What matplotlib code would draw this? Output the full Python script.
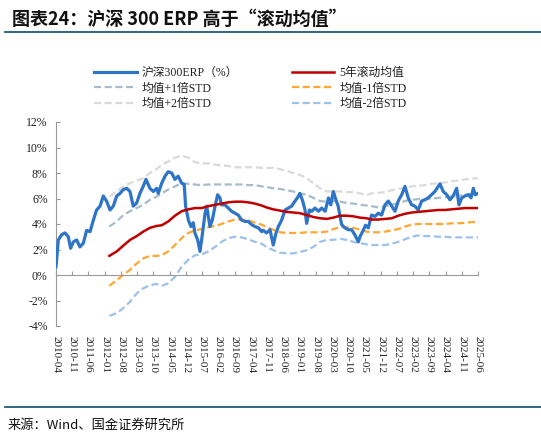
import matplotlib
matplotlib.use("Agg")
import matplotlib.pyplot as plt
from matplotlib.lines import Line2D
import numpy as np

# ---------------- data (months since 2010-04) ----------------
erp_m = [0, 1, 2.4, 3.9, 5.3, 6.3, 7.5, 8.9, 10.3, 11.8, 13.2, 14.7, 16.1, 17.5, 19, 20.4,
         21.8, 23.3, 24.7, 26.2, 27.6, 29, 30.5, 31.9, 33.3, 34.8, 36.2, 37.6, 38.8, 40.5,
         42, 43.4, 44.1, 45.6, 47, 48.4, 49.9, 51.3, 52.7, 54.2, 55.3, 55.9, 57.1, 58.2,
         59.2, 59.9, 61.1, 62.1, 62.8, 64.3, 65, 65.7, 66.4, 67.4, 68.6, 69.7, 70.7, 71.4,
         72.9, 74.3, 75.7, 77.2, 78.6, 80.1, 81.5, 82.9, 84.4, 85.8, 87.3, 88.7, 89.4,
         90.8, 92.3, 93.7, 94.9, 95.9, 97.3, 98.8, 100.2, 101.6, 103.1, 104.1, 105.2,
         106.4, 107.4, 108.1, 109.3, 110.3, 111.7, 113.2, 114.6, 116.1, 117.5, 118.5,
         119.6, 120.7, 121.7, 122.5, 123.2, 124.6, 126.1, 127.5, 128.9, 130.4, 131.1,
         132.6, 133.5, 134.7, 136.1, 137.6, 139, 140.4, 141.9, 143.3, 144.8, 146.2, 147.6,
         149.1, 150.5, 151.9, 153.4, 154.8, 156.2, 157.7, 159.1, 160.5, 162, 163.4, 164.9,
         165.6, 167, 168.5, 169.9, 171.3, 172.8, 173.8, 175, 176.4, 177.9, 179, 180,
         180.8, 182]
erp_v = [0.65, 2.75, 3.15, 3.3, 3.0, 2.1, 2.6, 2.75, 2.2, 2.5, 3.5, 3.4, 4.3, 5.1, 5.4, 6.2,
         5.8, 5.1, 5.4, 6.2, 6.4, 6.7, 6.8, 6.55, 5.4, 5.65, 6.4, 6.95, 7.5, 6.8,
         6.55, 6.8, 6.4, 7.2, 7.75, 8.1, 8.0, 7.5, 7.75, 7.2, 7.1, 5.4, 4.3, 3.8,
         4.1, 3.3, 2.75, 1.85, 2.75, 4.85, 5.4, 4.6, 3.8, 4.3, 5.4, 6.3, 6.05, 5.5,
         5.5, 5.25, 5.0, 4.85, 4.7, 4.3, 4.2, 4.2, 3.95, 3.8, 3.7, 3.4, 3.5,
         3.3, 3.55, 2.35, 3.3, 3.8, 4.3, 5.1, 5.25, 5.4, 5.8, 6.05, 6.4,
         5.8, 5.1, 4.05, 5.1, 5.0, 5.25, 5.0, 5.25, 5.0, 6.05, 5.5,
         6.55, 5.9, 5.4, 4.6, 3.95, 3.7, 3.55, 3.55, 3.15, 2.6, 3.0,
         3.55, 3.9, 3.7, 4.7, 4.6, 4.85, 4.7, 5.5, 5.8, 5.4, 5.0, 5.8,
         6.3, 6.95, 6.05, 5.5, 5.4, 5.1, 5.8, 5.9, 6.05, 6.3, 6.55, 6.95,
         7.15, 6.55, 6.3, 5.9, 6.2, 6.8, 5.5, 6.05, 6.2, 6.3, 6.05, 6.8,
         6.3, 6.4]

band_m = [23.0, 26.2, 29.0, 31.9, 34.8, 37.6, 40.5, 43.4,
          45.6, 48.4, 51.3, 54.2, 57.1, 59.9, 62.8, 65.7, 68.6, 71.4, 74.3, 77.2, 80.1, 82.9, 85.8, 88.7,
          90.8, 93.7, 96.6, 99.5, 102.4, 105.2, 108.1, 111.0, 113.9, 116.8, 119.6, 122.5, 125.4, 128.3, 131.1, 134.0,
          136.1, 139.0, 141.9, 144.8, 147.6, 150.5, 153.4, 156.2, 159.1, 162.0, 164.9, 167.7, 170.6, 173.5, 176.4, 179.3, 182.0]
mean5 = [1.5, 1.85, 2.3, 2.75, 3.05, 3.4, 3.7, 3.85,
         3.9, 4.2, 4.65, 5.0, 5.15, 5.25, 5.25, 5.4, 5.5, 5.6, 5.7, 5.75, 5.75, 5.7, 5.6, 5.45,
         5.3, 5.15, 5.05, 4.95, 4.9, 4.85, 4.7, 4.55, 4.45, 4.4, 4.5, 4.65, 4.65, 4.6, 4.5, 4.45,
         4.35, 4.35, 4.4, 4.45, 4.65, 4.8, 4.9, 4.95, 5.0, 5.05, 5.1, 5.1, 5.15, 5.2, 5.25, 5.25, 5.25]
plus1 = [3.8, 4.2, 4.7, 5.0, 5.25, 5.5, 5.9, 6.15,
         6.4, 6.7, 6.95, 7.2, 7.15, 7.1, 7.05, 7.1, 7.1, 7.1, 7.1, 7.1, 7.1, 7.05, 7.05, 6.95,
         6.9, 6.8, 6.75, 6.65, 6.55, 6.4, 6.3, 6.05, 5.8, 5.75, 5.8, 5.75, 5.65, 5.6, 5.5, 5.45,
         5.4, 5.3, 5.4, 5.5, 5.65, 5.8, 5.9, 5.95, 5.95, 6.0, 6.05, 6.1, 6.15, 6.2, 6.3, 6.35, 6.4]
minus1 = [-0.85, -0.4, 0.0, 0.4, 0.9, 1.3, 1.5, 1.5,
          1.55, 1.85, 2.35, 2.9, 3.3, 3.5, 3.6, 3.75, 3.85, 4.0, 4.2, 4.35, 4.35, 4.3, 4.1, 3.95,
          3.75, 3.55, 3.35, 3.3, 3.3, 3.3, 3.35, 3.35, 3.35, 3.4, 3.6, 3.75, 3.75, 3.7, 3.55, 3.4,
          3.35, 3.35, 3.4, 3.5, 3.6, 3.8, 3.95, 4.0, 4.0, 4.0, 4.0, 4.0, 4.05, 4.05, 4.1, 4.15, 4.15]
plus2 = [6.15, 6.55, 6.95, 7.2, 7.4, 7.6, 8.0, 8.3,
         8.65, 8.9, 9.2, 9.35, 9.2, 8.85, 8.75, 8.75, 8.65, 8.6, 8.55, 8.45, 8.45, 8.45, 8.45, 8.4,
         8.4, 8.4, 8.3, 8.15, 8.0, 7.85, 7.6, 7.2, 6.8, 6.55, 6.55, 6.55, 6.5, 6.5, 6.4, 6.3,
         6.4, 6.45, 6.5, 6.65, 6.75, 6.8, 6.95, 7.0, 7.05, 7.15, 7.2, 7.25, 7.35, 7.4, 7.5, 7.55, 7.6]
minus2 = [-3.2, -3.0, -2.6, -2.1, -1.45, -1.05, -0.8, -0.7,
          -0.85, -0.65, -0.15, 0.65, 1.2, 1.55, 1.6, 1.85, 2.2, 2.6, 2.9, 3.0, 2.95, 2.8, 2.6, 2.45,
          2.2, 1.95, 1.75, 1.7, 1.7, 1.8, 1.95, 2.2, 2.6, 2.75, 2.75, 2.85, 2.75, 2.6, 2.5, 2.4,
          2.35, 2.35, 2.35, 2.45, 2.6, 2.8, 3.0, 3.1, 3.05, 3.05, 3.0, 3.0, 2.95, 2.95, 2.95, 2.95, 2.95]

tick_labels = ["2010-04", "2010-11", "2011-06", "2012-01", "2012-08", "2013-03", "2013-10",
               "2014-05", "2014-12", "2015-07", "2016-02", "2016-09", "2017-04", "2017-11",
               "2018-06", "2019-01", "2019-08", "2020-03", "2020-10", "2021-05", "2021-12",
               "2022-07", "2023-02", "2023-09", "2024-04", "2024-11", "2025-06"]
y_ticks = [-4, -2, 0, 2, 4, 6, 8, 10, 12]

series_names = ["沪深300ERP（%）", "5年滚动均值", "均值+1倍STD", "均值-1倍STD", "均值+2倍STD", "均值-2倍STD"]

title = "图表24：沪深 300 ERP 高于“滚动均值”"
source = "来源：Wind、国金证券研究所"

# ---------------- style ----------------
CJK = "Noto Sans CJK SC"
SERIF = ["Liberation Serif", CJK]
plt.rcParams["font.family"] = SERIF

fig = plt.figure(figsize=(5.41, 4.37), dpi=100)
ax = fig.add_axes([56 / 541, 1 - 326 / 437, (478 - 56) / 541, (326 - 122) / 437])

c_erp = "#2E75C8"
c_mean = "#C00000"
c_p1 = "#A7BCC9"
c_m1 = "#FFA733"
c_p2 = "#DADADA"
c_m2 = "#9DC2EA"
dash = (3.2, 1.6)

l_p2, = ax.plot(band_m, plus2, color=c_p2, lw=1.6, dashes=dash, zorder=2)
l_m2, = ax.plot(band_m, minus2, color=c_m2, lw=1.6, dashes=dash, zorder=2)
l_p1, = ax.plot(band_m, plus1, color=c_p1, lw=1.6, dashes=dash, zorder=2)
l_m1, = ax.plot(band_m, minus1, color=c_m1, lw=1.6, dashes=dash, zorder=2)
l_erp, = ax.plot(erp_m, erp_v, color=c_erp, lw=2.3, zorder=3, solid_joinstyle="round")
l_mean, = ax.plot(band_m, mean5, color=c_mean, lw=1.8, zorder=4)

ax.set_xlim(0, 182)
ax.set_ylim(-4, 12)
ax.set_yticks(y_ticks)
ax.set_yticklabels([f"{v}%" for v in y_ticks])
ax.tick_params(axis="y", direction="in", length=3, color="#999999", labelsize=8.5, pad=6,
               labelcolor="#222222")

xt = np.arange(0, 183, 7)
ax.set_xticks(xt)
ax.tick_params(axis="x", direction="in", length=3, color="#999999", labelbottom=False)
ax.spines["bottom"].set_position(("data", 0))
for s in ["top", "right"]:
    ax.spines[s].set_visible(False)
for s in ["left", "bottom"]:
    ax.spines[s].set_color("#999999")
    ax.spines[s].set_linewidth(0.8)

sec = ax.secondary_xaxis("bottom")
sec.set_xticks(xt)
sec.set_xticklabels(tick_labels, rotation=-90, fontsize=8, color="#222222")
sec.tick_params(length=0, pad=7)
sec.spines["bottom"].set_visible(False)

# legend (row-major order via column-major fill)
handles = [l_erp, l_p1, l_p2, l_mean, l_m1, l_m2]
labels = [series_names[0], series_names[2], series_names[4], series_names[1], series_names[3], series_names[5]]
leg = fig.legend(handles, labels, ncol=2, loc="upper left", bbox_to_anchor=(94 / 541, 1 - 67 / 437),
                 frameon=False, fontsize=8.5, handlelength=3.6, handletextpad=0.4,
                 columnspacing=4.6, labelspacing=0.3, borderaxespad=0, borderpad=0)
for t in leg.get_texts():
    t.set_color("#222222")

# title, rules, source
fig.text(12 / 541, 1 - 19 / 437, title, family=[CJK], fontsize=13, fontweight="bold",
         color="#111111", va="center", ha="left", style="italic")
fig.add_artist(Line2D([5 / 541, 1.0], [1 - 32 / 437, 1 - 32 / 437], color="#1F5A7A", lw=1.3))
fig.add_artist(Line2D([5 / 541, 1.0], [1 - 407 / 437, 1 - 407 / 437], color="#1F5A7A", lw=1.3))
fig.text(8 / 541, 1 - 425 / 437, source, family=[CJK], fontsize=9.5, color="#111111",
         va="center", ha="left")

fig.savefig("out.png", dpi=100)
